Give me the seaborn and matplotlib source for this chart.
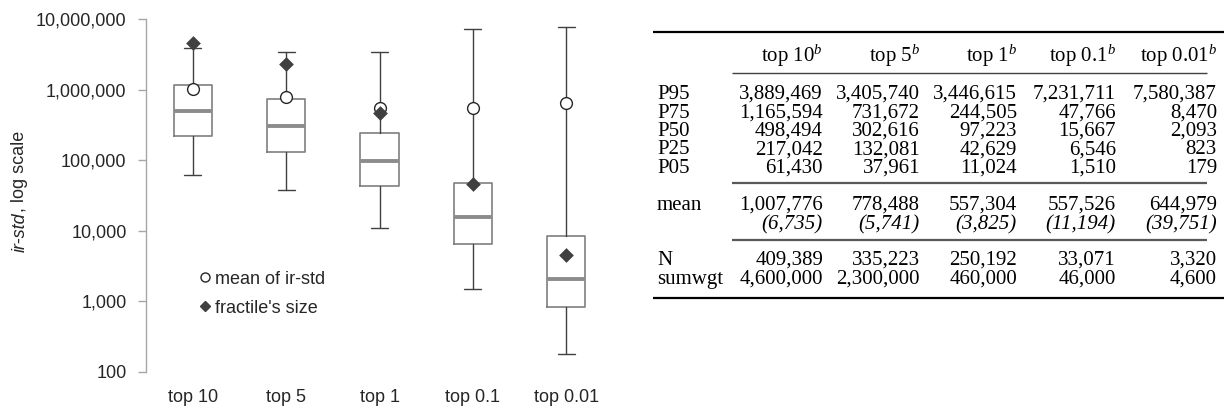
import matplotlib
matplotlib.use("Agg")
import matplotlib.pyplot as plt
import numpy as np
import pandas as pd
import seaborn as sns
from matplotlib.lines import Line2D
from matplotlib.ticker import FixedLocator, FuncFormatter, NullLocator

# ---------------- data ----------------
categories = ["top 10", "top 5", "top 1", "top 0.1", "top 0.01"]
p95 = [3889469, 3405740, 3446615, 7231711, 7580387]
p75 = [1165594, 731672, 244505, 47766, 8470]
p50 = [498494, 302616, 97223, 15667, 2093]
p25 = [217042, 132081, 42629, 6546, 823]
p05 = [61430, 37961, 11024, 1510, 179]
mean_vals = [1007776, 778488, 557304, 557526, 644979]
mean_se = [6735, 5741, 3825, 11194, 39751]
n_obs = [409389, 335223, 250192, 33071, 3320]
sumwgt = [4600000, 2300000, 460000, 46000, 4600]
y_ticks = [100, 1000, 10000, 100000, 1000000, 10000000]
header_labels = ["top 10", "top 5", "top 1", "top 0.1", "top 0.01"]
pct_row_names = ["P95", "P75", "P50", "P25", "P05"]

# ---------------- style ----------------
sns.set_style("white")
plt.rcParams["font.family"] = ["Liberation Sans", "DejaVu Sans"]
plt.rcParams["mathtext.fontset"] = "custom"
plt.rcParams["mathtext.rm"] = "Liberation Serif"
plt.rcParams["mathtext.it"] = "Liberation Serif:italic"

W, H = 1224, 409
fig = plt.figure(figsize=(W / 100, H / 100), dpi=100)
fig.patch.set_facecolor("white")


def fx(px):
    return px / W


def fy(py):
    return 1 - py / H


TXT = "#262626"
AXC = "#a6a6a6"
FS = 13

# ---------------- box plot ----------------
ax_l, ax_r, ax_t, ax_b = 146, 613, 19, 372
ax = fig.add_axes([fx(ax_l), fy(ax_b), (ax_r - ax_l) / W, (ax_b - ax_t) / H])
ax.set_yscale("log")

df = pd.DataFrame({"cat": categories, "mean": mean_vals, "size": sumwgt})

stats = [
    dict(whislo=a, q1=b, med=c, q3=d, whishi=e, label=cat)
    for a, b, c, d, e, cat in zip(p05, p25, p50, p75, p95, categories)
]
ax.bxp(
    stats,
    positions=list(range(len(categories))),
    widths=0.41,
    capwidths=0.18,
    showfliers=False,
    manage_ticks=False,
    boxprops=dict(color="#7f7f7f", linewidth=1.2),
    medianprops=dict(color="#8c8c8c", linewidth=2.8, solid_capstyle="butt"),
    whiskerprops=dict(color="#404040", linewidth=1.0),
    capprops=dict(color="#404040", linewidth=1.0),
)

sns.stripplot(
    data=df, x="cat", y="mean", order=categories, jitter=False, marker="o",
    size=8.5, color="white", edgecolor=TXT, linewidth=1.0, ax=ax, zorder=5,
)
sns.stripplot(
    data=df, x="cat", y="size", order=categories, jitter=False, marker="D",
    size=7.5, color="#404040", edgecolor="#404040", linewidth=0, ax=ax, zorder=6,
)

ax.set_ylim(100, 1e7)
ax.set_xlim(-0.5, len(categories) - 0.5)
ax.yaxis.set_major_locator(FixedLocator(y_ticks))
ax.yaxis.set_minor_locator(NullLocator())
ax.yaxis.set_major_formatter(FuncFormatter(lambda v, p: f"{int(round(v)):,}"))
ax.set_xticks(range(len(categories)))
ax.set_xticklabels(categories)
ax.set_xlabel("")
ax.set_ylabel("")
for s in ["top", "right", "bottom"]:
    ax.spines[s].set_visible(False)
ax.spines["left"].set_color(AXC)
ax.spines["left"].set_linewidth(1.0)
ax.tick_params(axis="y", which="major", length=6, width=1.0, color=AXC,
               labelcolor=TXT, labelsize=FS, pad=8, left=True)
ax.tick_params(axis="x", length=0, labelcolor=TXT, labelsize=FS, pad=12)

handles = [
    Line2D([], [], marker="o", ls="", mfc="white", mec=TXT, mew=1.0, ms=6.5),
    Line2D([], [], marker="D", ls="", mfc="#404040", mec="#404040", ms=5),
]
ax.legend(handles, ["mean of ir-std", "fractile's size"], loc="center left",
          bbox_to_anchor=(0.115, 0.222), frameon=False, handlelength=0.6,
          handletextpad=0.25, labelspacing=0.65, borderpad=0, borderaxespad=0,
          fontsize=FS, labelcolor=TXT)

# y label: italic "ir-std" followed by ", log scale"
t1 = fig.text(fx(20), fy(252), "ir-std", rotation=90, ha="center", va="bottom",
              fontsize=FS, style="italic", color=TXT)
ax.annotate(", log scale", xy=(0.5, 1.0), xycoords=t1, ha="center", va="bottom",
            rotation=90, fontsize=FS, color=TXT, annotation_clip=False)

# ---------------- table ----------------
tab = fig.add_axes([0, 0, 1, 1], zorder=-1)
tab.set_xlim(0, W)
tab.set_ylim(H, 0)
tab.axis("off")

SER = "Liberation Serif"
TFS = 15
BL = 7  # baseline offset below row centre (px)
lab_x = 657
col_r = [823, 920, 1017, 1116, 1217]


def ttext(x, y, s, ha="right", **kw):
    tab.text(x, y + BL, s, ha=ha, va="baseline", family=SER, fontsize=TFS,
             color="black", **kw)


tab.plot([653, 1224], [32, 32], color="black", lw=1.6, solid_capstyle="butt")
tab.plot([732, 1207], [73, 73], color="#404040", lw=1.0, solid_capstyle="butt")
tab.plot([732, 1207], [183, 183], color="#595959", lw=1.6, solid_capstyle="butt")
tab.plot([732, 1207], [240, 240], color="#595959", lw=1.6, solid_capstyle="butt")
tab.plot([653, 1224], [298, 298], color="black", lw=1.6, solid_capstyle="butt")

for hx, lab in zip(col_r, header_labels):
    ttext(hx, 55, lab + r"$^{b}$")

pct_rows = [p95, p75, p50, p25, p05]
pct_y = [92, 110.5, 129, 147.5, 166]
for name, vals, yy in zip(pct_row_names, pct_rows, pct_y):
    ttext(lab_x, yy, name, ha="left")
    for hx, v in zip(col_r, vals):
        ttext(hx, yy, f"{v:,}")

ttext(lab_x, 203, "mean", ha="left")
for hx, v, se in zip(col_r, mean_vals, mean_se):
    ttext(hx, 203, f"{v:,}")
    ttext(hx, 222, f"({se:,})", style="italic")

ttext(lab_x, 258, "N", ha="left")
ttext(lab_x, 277, "sumwgt", ha="left")
for hx, n, sw in zip(col_r, n_obs, sumwgt):
    ttext(hx, 258, f"{n:,}")
    ttext(hx, 277, f"{sw:,}")

fig.savefig("out.png", dpi=100, facecolor="white")
